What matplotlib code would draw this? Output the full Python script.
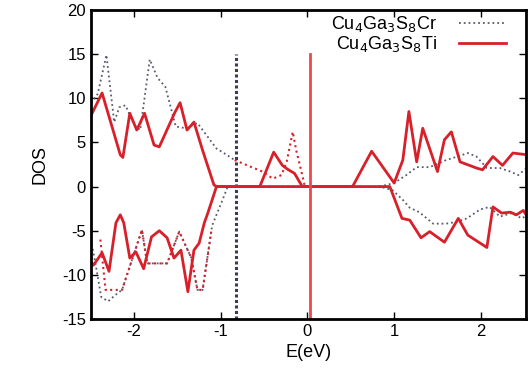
import numpy as np
import matplotlib
matplotlib.use("Agg")
import matplotlib.pyplot as plt

plt.rcParams['font.family'] = ['Liberation Sans', 'DejaVu Sans']
plt.rcParams['axes.unicode_minus'] = False

# Cu4Ga3S8Cr (gray dotted)
cr_up_e = [-2.5, -2.42, -2.32, -2.23, -2.17, -2.1, -2.0, -1.93, -1.82, -1.73, -1.64,
           -1.52, -1.4, -1.27, -1.05, -0.98, -0.84]
cr_up_d = [9.5, 10.5, 14.9, 7.3, 9.0, 9.2, 7.0, 6.4, 14.4, 12.3, 11.3,
           6.8, 6.6, 7.2, 4.3, 3.9, 3.0]
cr_up_r_e = [0.83, 1.0, 1.14, 1.26, 1.41, 1.6, 1.73, 1.85, 1.95, 2.07, 2.22, 2.34, 2.43, 2.53]
cr_up_r_d = [0.0, 0.4, 1.3, 2.2, 2.2, 3.0, 3.4, 3.8, 3.4, 2.1, 2.1, 1.7, 1.3, 2.1]
cr_dn_e = [-2.5, -2.45, -2.38, -2.3, -2.22, -2.14, -1.91, -1.85, -1.62, -1.53, -1.48,
           -1.34, -1.27, -1.21, -1.1, -1.0, -0.92, 0.83, 0.98, 1.1, 1.18, 1.29, 1.45,
           1.6, 1.72, 1.84, 1.99, 2.1, 2.22, 2.36, 2.47, 2.53]
cr_dn_d = [-6.0, -8.5, -12.5, -13.0, -12.3, -11.7, -4.9, -8.7, -8.7, -6.4, -5.1,
           -8.1, -11.7, -11.7, -4.4, -2.0, 0.0, 0.0, -0.4, -1.5, -2.4, -2.9, -4.2,
           -4.2, -4.0, -3.6, -2.6, -2.3, -3.4, -3.0, -3.6, -3.3]

# Cu4Ga3S8Ti (red solid)
ti_up_e = [-2.5, -2.37, -2.16, -2.13, -2.05, -1.97, -1.88, -1.77, -1.71, -1.53, -1.47,
           -1.39, -1.31, -1.21, -1.08, -1.05, -0.55, -0.39, -0.29, -0.22, -0.15, -0.06,
           0.52, 0.74, 1.0, 1.1, 1.17, 1.26, 1.33, 1.5, 1.58, 1.66, 1.76, 1.95, 2.02,
           2.14, 2.25, 2.37, 2.53]
ti_up_d = [8.0, 10.6, 3.6, 3.3, 8.3, 6.4, 8.3, 4.7, 4.5, 8.4, 9.5,
           6.4, 7.3, 4.1, 0.2, 0.0, 0.0, 3.9, 2.4, 1.9, 1.5, 0.0,
           0.0, 4.0, 0.4, 3.0, 8.5, 2.8, 6.6, 1.7, 5.3, 6.2, 2.8, 2.1, 1.9,
           3.4, 2.4, 3.8, 3.6]
ti_dn_e = [-2.5, -2.47, -2.37, -2.29, -2.21, -2.16, -2.12, -2.05, -1.98, -1.89, -1.8,
           -1.71, -1.62, -1.54, -1.46, -1.38, -1.31, -1.25, -1.19, -1.15, -1.05,
           0.95, 1.09, 1.18, 1.31, 1.41, 1.58, 1.74, 1.85, 2.07, 2.14, 2.24, 2.34,
           2.41, 2.49, 2.53]
ti_dn_d = [-8.5, -8.9, -7.5, -9.6, -4.1, -3.2, -4.1, -8.1, -7.4, -9.3, -5.7,
           -5.0, -5.8, -8.1, -7.2, -11.9, -7.2, -6.4, -4.1, -3.0, 0.0,
           0.0, -3.6, -3.8, -5.8, -5.1, -6.3, -3.6, -5.5, -6.9, -2.3, -3.0, -2.9,
           -3.2, -2.7, -3.3]

# extra red dotted curve
red_dot_e = [-2.39, -2.33, -2.14, -1.91, -1.85, -1.62, -1.53, -1.48, -1.34, -1.27,
             -1.21, -1.11, np.nan, -0.84, -0.67, -0.52, -0.40, -0.30, -0.24, -0.17,
             -0.13, -0.07, -0.03]
red_dot_d = [-6.0, -11.7, -11.7, -4.9, -8.7, -8.7, -6.4, -5.1, -8.1, -11.7,
             -11.7, -5.1, np.nan, 3.0, 2.3, 1.7, 0.9, 1.3, 2.8, 6.2,
             4.1, 1.7, 0.0]

# vertical marker lines
vline_cr = -0.83
vline_ti = 0.03
vline_span = [-15, 15]

fig = plt.figure(figsize=(5.28, 3.83), dpi=100)
ax = fig.add_axes([0.172, 0.167, 0.824, 0.807])

gray = '#5a5a6e'
red = '#d8202a'

ax.plot(cr_up_e, cr_up_d, ls=':', color=gray, lw=1.3, label='Cu$_4$Ga$_3$S$_8$Cr')
ax.plot(cr_up_r_e, cr_up_r_d, ls=':', color=gray, lw=1.3)
ax.plot(cr_dn_e, cr_dn_d, ls=':', color=gray, lw=1.3)
ax.plot(red_dot_e, red_dot_d, ls=':', color=red, lw=1.5)
ax.plot([vline_cr, vline_cr], vline_span, ls=(0, (1, 0.8)), color='#3a3a5a', lw=2.2)
ax.plot(ti_up_e, ti_up_d, '-', color=red, lw=2, label='Cu$_4$Ga$_3$S$_8$Ti')
ax.plot(ti_dn_e, ti_dn_d, '-', color=red, lw=2)
ax.plot([vline_ti, vline_ti], vline_span, '-', color='#f04848', lw=2)

ax.set_xlim(-2.5, 2.52)
ax.set_ylim(-15, 20)
ax.set_xticks([-2, -1, 0, 1, 2])
ax.set_yticks(np.arange(-15, 21, 5))
ax.tick_params(direction='in', top=True, right=True, labelsize=12, length=5, width=1)
for s in ax.spines.values():
    s.set_linewidth(2)
ax.set_xlabel('E(eV)', fontsize=13)
ax.set_ylabel('DOS', fontsize=13, labelpad=10)

ax.legend(loc='upper right', frameon=False, markerfirst=False, fontsize=13,
          handlelength=2.6, borderaxespad=0.0, labelspacing=0.0, handletextpad=1.2,
          bbox_to_anchor=(0.97, 1.01))

fig.savefig('out.png', dpi=100)
